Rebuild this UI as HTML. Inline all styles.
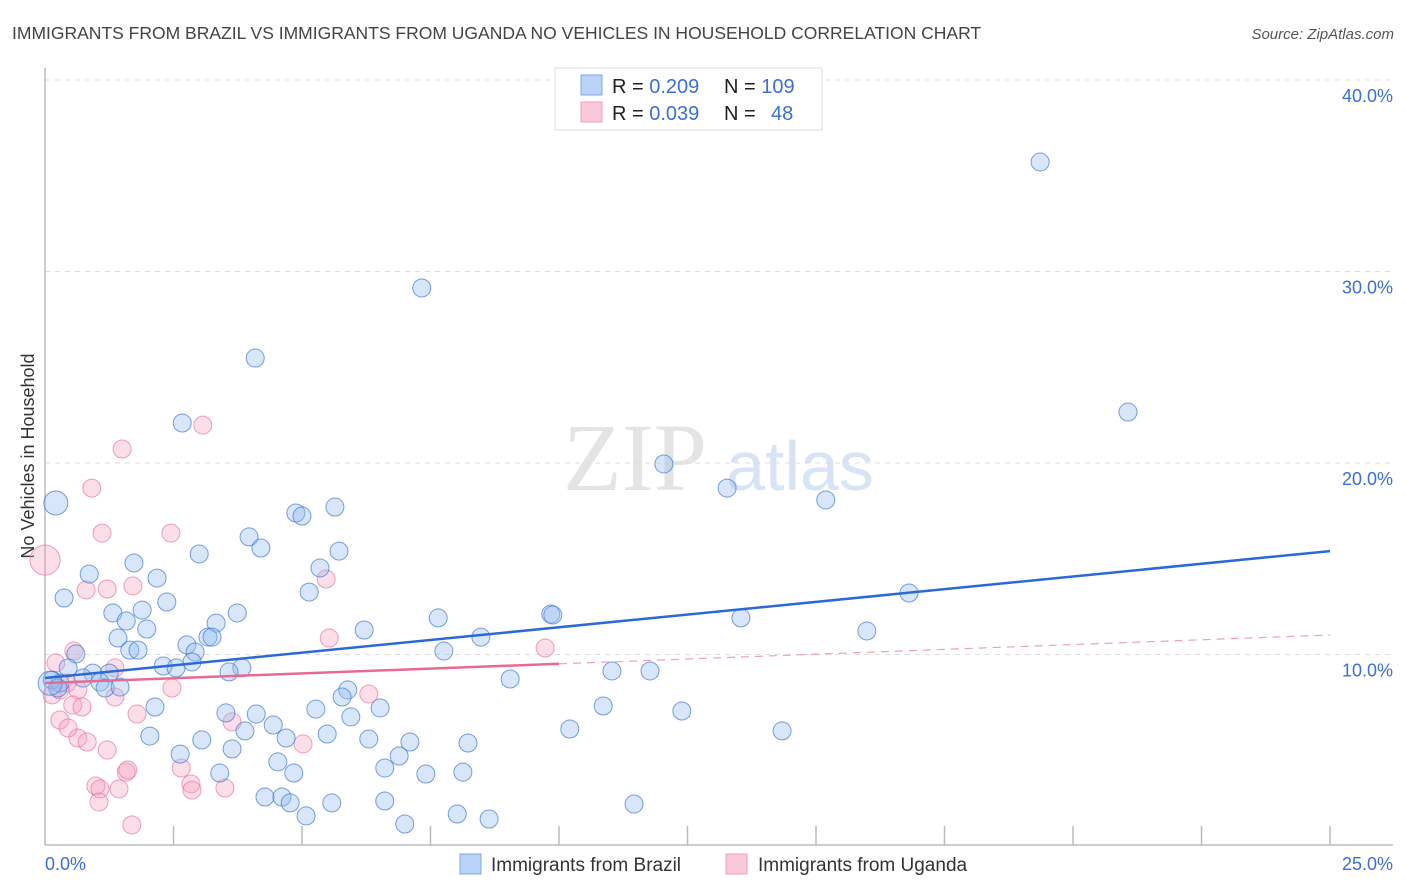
<!DOCTYPE html>
<html><head><meta charset="utf-8">
<style>
body{margin:0;background:#fff;font-family:"Liberation Sans",sans-serif;}
svg{display:block}
</style></head>
<body>
<svg id="chart" width="1406" height="892" xmlns="http://www.w3.org/2000/svg">
<text x="12" y="39" font-size="17.5" fill="#444">IMMIGRANTS FROM BRAZIL VS IMMIGRANTS FROM UGANDA NO VEHICLES IN HOUSEHOLD CORRELATION CHART</text>
<text x="1394" y="39" font-size="15" fill="#555" text-anchor="end" font-style="italic">Source: ZipAtlas.com</text>
<text transform="translate(34,456) rotate(-90)" font-size="18" fill="#333" text-anchor="middle">No Vehicles in Household</text>
<g>
<text x="635" y="490" font-size="96" fill="#e4e4e4" text-anchor="middle" font-family="Liberation Serif,serif">ZIP</text>
<text x="800" y="490" font-size="70" fill="#d6e4f5" text-anchor="middle">atlas</text>
</g>
<g id="grid"></g>
<g id="axes"></g>
<g id="pts"></g>
<g id="trend"></g>
<g>
<rect x="555" y="68" width="267" height="62" fill="#fff" stroke="#ddd"/>
<rect x="581" y="75" width="21" height="20" fill="#b9d3f7" stroke="#7ea7e6"/>
<rect x="581" y="102" width="21" height="20" fill="#fbc8d8" stroke="#eea0b8"/>
<text x="612" y="93" font-size="20" fill="#222">R = <tspan fill="#3a6fd8">0.209</tspan><tspan x="724">N = </tspan><tspan fill="#3a6fd8">109</tspan></text>
<text x="612" y="120" font-size="20" fill="#222">R = <tspan fill="#3a6fd8">0.039</tspan><tspan x="724">N = </tspan><tspan fill="#3a6fd8" x="771">48</tspan></text>
</g>
<g>
<rect x="460" y="854" width="21" height="20" fill="#b9d3f7" stroke="#7ea7e6"/>
<text x="491" y="871" font-size="19" fill="#333">Immigrants from Brazil</text>
<rect x="726" y="854" width="21" height="20" fill="#fbc8d8" stroke="#eea0b8"/>
<text x="758" y="871" font-size="19" fill="#333">Immigrants from Uganda</text>
</g>
</svg>
<script>
const yTicks=[10,20,30,40];
const yTickLabels=["10.0%","20.0%","30.0%","40.0%"];
const xTicks=[2.5,5,7.5,10,12.5,15,17.5,20,22.5,25];
const xEndLabels=["0.0%","25.0%"];
const brazilX=[19.36,7.33,4.09,21.07,2.67,12.04,13.27,15.19,0.21,4.88,5.00,5.64,3.97,4.20,3.00,5.72,1.73,5.35,0.86,2.18,5.14,0.37,2.37,1.32,1.89,3.74,9.84,9.88,7.65,13.54,1.58,3.33,1.98,6.21,15.99,1.42,8.48,3.17,3.25,2.76,2.92,1.65,1.81,7.76,0.60,2.30,2.55,2.86,3.83,3.58,11.03,11.77,0.45,0.93,1.25,0.74,1.07,9.05,0.14,0.29,1.17,1.46,0.25,5.89,5.78,2.14,5.27,6.52,10.86,12.39,3.52,4.11,5.95,2.04,3.89,4.44,3.05,5.49,4.69,3.64,6.30,7.10,8.23,10.21,14.34,2.63,4.53,6.89,3.40,4.84,6.61,7.41,8.13,4.28,4.61,6.61,5.58,11.46,4.77,5.08,8.02,8.64,7.00,16.81,0.10];
const brazilY=[35.72,29.14,25.48,22.66,22.09,19.95,18.69,18.07,17.91,17.39,17.23,17.70,16.14,15.56,15.25,15.40,14.78,14.52,14.20,13.99,13.26,12.95,12.74,12.17,12.32,12.17,12.11,12.06,11.91,11.91,11.75,11.64,11.33,11.28,11.23,10.86,10.91,10.91,10.91,10.50,10.13,10.23,10.23,10.18,10.03,9.40,9.30,9.61,9.30,9.09,9.14,9.14,9.30,9.03,9.03,8.77,8.56,8.72,8.67,8.51,8.25,8.30,8.25,8.15,7.78,7.26,7.15,7.21,7.31,7.05,6.95,6.89,6.74,5.74,6.01,6.32,5.54,5.85,5.64,5.07,5.59,5.43,5.38,6.11,6.01,4.80,4.39,4.70,3.81,3.81,4.07,3.76,3.86,2.56,2.56,2.35,2.25,2.19,2.25,1.57,1.67,1.41,1.15,13.21,8.5];
const ugandaX=[0,3.07,1.50,0.91,2.45,1.11,1.71,1.21,0.80,5.47,5.53,9.73,0.56,0.21,1.36,2.47,0.43,0.64,6.30,1.36,0.14,0.54,0.72,1.79,0.29,3.64,0.45,0.64,0.82,5.02,1.21,2.65,1.58,1.61,0.99,1.07,2.84,2.86,1.44,3.50,1.05,1.69,0.29];
const ugandaY=[14.93,21.98,20.73,18.69,16.34,16.34,13.58,13.42,13.37,13.94,10.86,10.34,10.18,9.56,9.30,8.25,8.51,8.15,7.94,7.78,7.89,7.36,7.26,6.89,6.58,6.48,6.16,5.64,5.43,5.33,5.01,4.07,3.86,3.97,3.13,2.98,3.24,2.92,2.98,3.03,2.30,1.10,8.15];
const brazilTrend=[8.77,15.40];
const ugandaTrend=[8.51,11.02];
const ugandaSolidEnd=10;

const NS="http://www.w3.org/2000/svg";
const X0=45,X1=1330,Y0=846,PPY=19.15;
function sx(v){return X0+(v/25)*(X1-X0);}
function sy(v){return Y0-v*PPY;}
function mk(tag,attrs,parent){const e=document.createElementNS(NS,tag);for(const k in attrs)e.setAttribute(k,attrs[k]);parent.appendChild(e);return e;}

const grid=document.getElementById('grid');
yTicks.forEach((t,i)=>{
  const l=mk('line',{x1:X0,x2:1393,y1:sy(t),y2:sy(t),stroke:'#ddd','stroke-dasharray':'5,5'},grid);
  
  
  const tx=mk('text',{x:1393,y:sy(t)+22,'font-size':18,fill:'#3a6fd8','text-anchor':'end'},grid);
  tx.textContent=yTickLabels[i];
  
  
});
const axes=document.getElementById('axes');
const ya=mk('line',{x1:X0,x2:X0,y1:68,y2:845,stroke:'#bbb','stroke-width':1.5},axes);


const xa=mk('line',{x1:X0,x2:1393,y1:845,y2:845,stroke:'#bbb','stroke-width':1.5},axes);


xTicks.forEach(t=>{
  const l=mk('line',{x1:sx(t),x2:sx(t),y1:826,y2:845,stroke:'#bbb','stroke-width':1.5},axes);
  
  
});
const xl0=mk('text',{x:45,y:870,'font-size':18,fill:'#3a6fd8'},axes);
xl0.textContent=xEndLabels[0];


const xl1=mk('text',{x:1393,y:870,'font-size':18,fill:'#3a6fd8','text-anchor':'end'},axes);
xl1.textContent=xEndLabels[1];



const pts=document.getElementById('pts');
ugandaX.forEach((x,i)=>{
  const c=mk('circle',{cx:sx(x),cy:sy(ugandaY[i]),r:i===0?15:9,fill:'rgba(246,160,188,0.35)',stroke:'rgba(232,120,155,0.7)','stroke-width':1},pts);
  
  
});
brazilX.forEach((x,i)=>{
  const big=(i===8||i===brazilX.length-1);
  const c=mk('circle',{cx:sx(x),cy:sy(brazilY[i]),r:big?12:9,fill:'rgba(150,190,240,0.38)',stroke:'rgba(60,120,215,0.7)','stroke-width':1},pts);
  
  
});
const tr=document.getElementById('trend');
const bl=mk('line',{x1:sx(0),y1:sy(brazilTrend[0]),x2:sx(25),y2:sy(brazilTrend[1]),stroke:'#2a6ad6','stroke-width':2.5},tr);


const um=ugandaTrend[0]+(ugandaTrend[1]-ugandaTrend[0])*ugandaSolidEnd/25;
const ul=mk('line',{x1:sx(0),y1:sy(ugandaTrend[0]),x2:sx(ugandaSolidEnd),y2:sy(um),stroke:'#e86a94','stroke-width':2.5},tr);


const ud=mk('line',{x1:sx(ugandaSolidEnd),y1:sy(um),x2:sx(25),y2:sy(ugandaTrend[1]),stroke:'#eea0b8','stroke-width':1.2,'stroke-dasharray':'8,6'},tr);


</script>
</body></html>
